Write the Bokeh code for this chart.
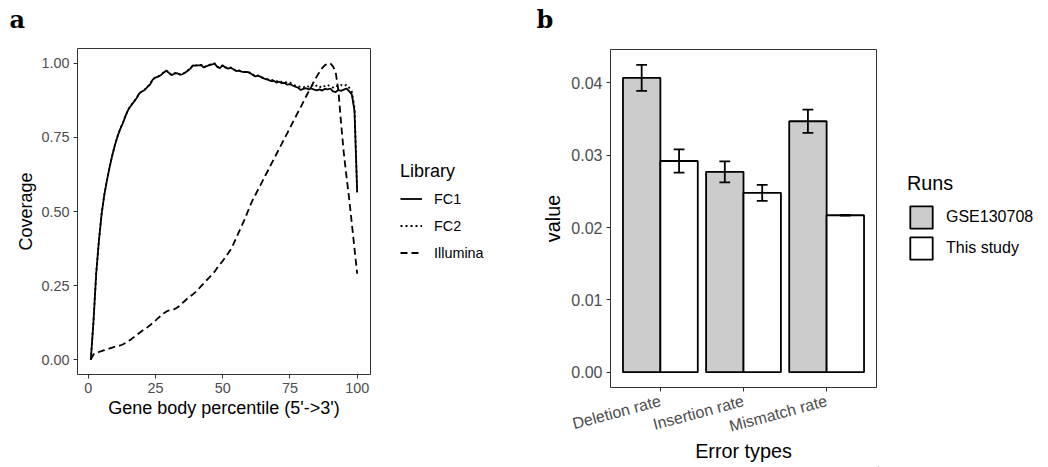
from bokeh.plotting import figure
from bokeh.models import (Range1d, FixedTicker, PrintfTickFormatter, Legend,
                          LegendItem, Label)
from bokeh.layouts import row, column
from bokeh.embed import file_html
from bokeh.resources import INLINE
import math

# ---- panel a: gene body coverage ----
percentile = list(range(1, 101))

fc1 = [0.000, 0.130, 0.290, 0.400, 0.490, 0.555, 0.605, 0.650, 0.690, 0.725,
       0.755, 0.780, 0.800, 0.825, 0.845, 0.858, 0.870, 0.882, 0.898, 0.905,
       0.910, 0.920, 0.928, 0.945, 0.952, 0.955, 0.960, 0.968, 0.975, 0.968,
       0.960, 0.965, 0.967, 0.962, 0.963, 0.968, 0.975, 0.982, 0.993, 0.992,
       0.993, 0.994, 0.986, 0.990, 0.994, 0.996, 0.999, 0.988, 0.984, 0.993,
       0.986, 0.982, 0.985, 0.980, 0.974, 0.975, 0.972, 0.970, 0.971, 0.968,
       0.962, 0.956, 0.958, 0.955, 0.950, 0.947, 0.944, 0.940, 0.941, 0.935,
       0.938, 0.933, 0.934, 0.928, 0.930, 0.925, 0.921, 0.918, 0.910, 0.914,
       0.916, 0.912, 0.915, 0.911, 0.909, 0.912, 0.908, 0.914, 0.912, 0.915,
       0.905, 0.903, 0.910, 0.907, 0.911, 0.915, 0.906, 0.895, 0.840, 0.565]

fc2 = [0.000, 0.132, 0.292, 0.402, 0.491, 0.556, 0.606, 0.651, 0.691, 0.726,
       0.756, 0.781, 0.801, 0.826, 0.846, 0.859, 0.871, 0.883, 0.899, 0.906,
       0.911, 0.921, 0.929, 0.946, 0.953, 0.956, 0.961, 0.969, 0.976, 0.969,
       0.961, 0.966, 0.968, 0.963, 0.964, 0.969, 0.976, 0.983, 0.994, 0.993,
       0.994, 0.995, 0.987, 0.991, 0.995, 0.997, 1.000, 0.989, 0.985, 0.994,
       0.987, 0.983, 0.986, 0.981, 0.975, 0.976, 0.973, 0.971, 0.972, 0.969,
       0.963, 0.957, 0.959, 0.956, 0.951, 0.948, 0.946, 0.943, 0.944, 0.939,
       0.942, 0.937, 0.939, 0.933, 0.935, 0.928, 0.925, 0.920, 0.922, 0.918,
       0.925, 0.921, 0.928, 0.920, 0.925, 0.918, 0.926, 0.922, 0.928, 0.920,
       0.918, 0.925, 0.921, 0.927, 0.922, 0.928, 0.918, 0.905, 0.850, 0.565]

illumina = [0.000, 0.018, 0.022, 0.026, 0.029, 0.032, 0.035, 0.038, 0.041, 0.044,
            0.046, 0.048, 0.052, 0.057, 0.063, 0.069, 0.076, 0.083, 0.090, 0.097,
            0.103, 0.109, 0.116, 0.124, 0.132, 0.140, 0.148, 0.156, 0.162, 0.166,
            0.168, 0.170, 0.175, 0.182, 0.191, 0.199, 0.207, 0.214, 0.221, 0.229,
            0.238, 0.248, 0.258, 0.268, 0.277, 0.287, 0.297, 0.310, 0.322, 0.333,
            0.345, 0.358, 0.372, 0.390, 0.410, 0.430, 0.450, 0.470, 0.492, 0.515,
            0.536, 0.553, 0.571, 0.588, 0.606, 0.624, 0.641, 0.659, 0.676, 0.694,
            0.712, 0.729, 0.747, 0.764, 0.782, 0.800, 0.817, 0.835, 0.852, 0.870,
            0.888, 0.905, 0.922, 0.940, 0.956, 0.971, 0.984, 0.994, 0.999, 1.000,
            0.990, 0.970, 0.910, 0.800, 0.700, 0.620, 0.545, 0.460, 0.375, 0.290]

coverage_ticks = [0, 0.25, 0.5, 0.75, 1.0]
percentile_ticks = [0, 25, 50, 75, 100]
library_names = ["FC1", "FC2", "Illumina"]
library_dash = ["solid", "2 3", "7 4"]

# ---- panel b: error rates ----
error_types = ["Deletion rate", "Insertion rate", "Mismatch rate"]
gse_value = [0.0407, 0.0277, 0.0347]
gse_err = [0.0018, 0.00145, 0.0016]
study_value = [0.0292, 0.0248, 0.0217]
study_err = [0.0016, 0.0011, 0.00005]
value_ticks = [0.0, 0.01, 0.02, 0.03, 0.04]
run_names = ["GSE130708", "This study"]
run_fill = ["#CCCCCC", "white"]

SANS = "Liberation Sans"
TICK_COLOR = "#4D4D4D"
FRAME_COLOR = "#333333"
LW = 1.8
STRIP_H = 46   # header strip holding the panel letters
ROW_H = 467 - STRIP_H
FAR = -10000   # keeps the legend-only renderers well off their blank panels


def style(p, tick_size, title_size):
    p.outline_line_color = FRAME_COLOR
    p.outline_line_width = 1
    p.xgrid.visible = False
    p.ygrid.visible = False
    p.background_fill_color = "white"
    p.border_fill_color = "white"
    for ax in (p.xaxis[0], p.yaxis[0]):
        ax.axis_line_color = None
        ax.major_tick_line_color = FRAME_COLOR
        ax.major_tick_line_width = 1
        ax.major_tick_out = 4
        ax.major_tick_in = 0
        ax.minor_tick_line_color = None
        ax.major_label_text_font = SANS
        ax.major_label_text_font_size = tick_size
        ax.major_label_text_color = TICK_COLOR
        ax.major_label_standoff = 4
        ax.axis_label_text_font = SANS
        ax.axis_label_text_font_size = title_size
        ax.axis_label_text_font_style = "normal"
        ax.axis_label_text_color = "black"


def blank_panel(width, height):
    f = figure(width=width, height=height, output_backend="svg",
               toolbar_location=None, x_range=Range1d(0, width),
               y_range=Range1d(0, height), min_border=0, frame_align=False)
    f.axis.visible = False
    f.grid.visible = False
    f.outline_line_color = None
    f.border_fill_color = "white"
    f.background_fill_color = "white"
    return f


def style_legend(leg, title_size, label_size, gw, gh, spacing, standoff):
    leg.title_text_font = SANS
    leg.title_text_font_size = title_size
    leg.title_text_font_style = "normal"
    leg.title_text_color = "black"
    leg.title_standoff = 8
    leg.label_text_font = SANS
    leg.label_text_font_size = label_size
    leg.label_text_color = "black"
    leg.glyph_width = gw
    leg.glyph_height = gh
    leg.label_height = gh
    leg.spacing = spacing
    leg.label_standoff = standoff
    leg.padding = 0
    leg.margin = 0
    leg.border_line_color = None
    leg.background_fill_alpha = 0


# header strip with the panel letters
header = blank_panel(1048, STRIP_H)
for letter, lx in (("a", 9), ("b", 536)):
    header.add_layout(Label(x=lx, y=STRIP_H - 19, text=letter,
                            text_font="DejaVu Serif", text_font_style="bold",
                            text_font_size="24px", text_color="black",
                            text_baseline="alphabetic"))

# panel a: frame spans x 77..370, y 48..374 of the page
pa = figure(width=372, height=ROW_H, output_backend="svg", toolbar_location=None,
            frame_align=False,
            x_range=Range1d(-3.95, 104.95), y_range=Range1d(-0.05, 1.05),
            min_border_left=77, min_border_right=2, min_border_top=2,
            min_border_bottom=93)
style(pa, "14.4px", "18px")
pa.xaxis.ticker = FixedTicker(ticks=percentile_ticks)
pa.yaxis.ticker = FixedTicker(ticks=coverage_ticks)
pa.yaxis.formatter = PrintfTickFormatter(format="%.2f")
pa.xaxis.axis_label = "Gene body percentile (5'->3')"
pa.yaxis.axis_label = "Coverage"
pa.xaxis.axis_label_standoff = 2
pa.yaxis.axis_label_standoff = 2

for ys, dash in zip((fc1, fc2, illumina), library_dash):
    pa.line(percentile, ys, line_color="black", line_width=LW, line_dash=dash)

# legend for panel a
la = blank_panel(152, ROW_H)
items_a = []
for name, dash in zip(library_names, library_dash):
    r = la.line(x=[FAR, FAR + 1], y=[FAR, FAR + 1], line_color="black",
                line_width=LW, line_dash=dash)
    items_a.append(LegendItem(label=name, renderers=[r]))
leg_a = Legend(items=items_a, location=(28, 206), title="Library")
style_legend(leg_a, "18px", "14.4px", 22, 17, 10, 12)
la.add_layout(leg_a)

# panel b: frame spans x 610..876, y 49..387 of the page
pb = figure(width=354, height=ROW_H, output_backend="svg", toolbar_location=None,
            frame_align=False,
            x_range=Range1d(0.4, 3.6), y_range=Range1d(-0.002125, 0.044625),
            min_border_left=86, min_border_right=2, min_border_top=3,
            min_border_bottom=80)
style(pb, "16px", "19.8px")
pb.xaxis.ticker = FixedTicker(ticks=[1, 2, 3])
pb.xaxis.major_label_overrides = {i + 1: t for i, t in enumerate(error_types)}
pb.xaxis.major_label_orientation = math.radians(15)
pb.xaxis.major_label_standoff = 9
pb.yaxis.ticker = FixedTicker(ticks=value_ticks)
pb.yaxis.formatter = PrintfTickFormatter(format="%.2f")
pb.xaxis.axis_label = "Error types"
pb.yaxis.axis_label = "value"
pb.xaxis.axis_label_standoff = -6
pb.yaxis.axis_label_standoff = 4

centers = [i + 1 for i in range(len(error_types))]
bar_w = 0.45
x_gse = [c - bar_w / 2 for c in centers]
x_study = [c + bar_w / 2 for c in centers]

cap = 0.065
for xs, vals, errs, fill in ((x_gse, gse_value, gse_err, run_fill[0]),
                             (x_study, study_value, study_err, run_fill[1])):
    pb.vbar(x=xs, top=vals, bottom=0, width=bar_w, fill_color=fill,
            line_color="black", line_width=LW)
    lo = [v - e for v, e in zip(vals, errs)]
    hi = [v + e for v, e in zip(vals, errs)]
    pb.segment(x0=xs, y0=lo, x1=xs, y1=hi, line_color="black", line_width=LW)
    pb.segment(x0=[x - cap for x in xs], y0=lo, x1=[x + cap for x in xs], y1=lo,
               line_color="black", line_width=LW)
    pb.segment(x0=[x - cap for x in xs], y0=hi, x1=[x + cap for x in xs], y1=hi,
               line_color="black", line_width=LW)

# legend for panel b
lb = blank_panel(170, ROW_H)
items_b = []
for name, fill in zip(run_names, run_fill):
    r = lb.vbar(x=[FAR], top=[FAR + 1], bottom=FAR, width=1, fill_color=fill,
                line_color="black", line_width=LW)
    items_b.append(LegendItem(label=name, renderers=[r]))
leg_b = Legend(items=items_b, location=(29, 205), title="Runs")
style_legend(leg_b, "19.8px", "16px", 28, 28, 3, 11)
lb.add_layout(leg_b)

layout = column(header, row(pa, la, pb, lb))
open("out.html", "w").write(file_html(layout, INLINE))
